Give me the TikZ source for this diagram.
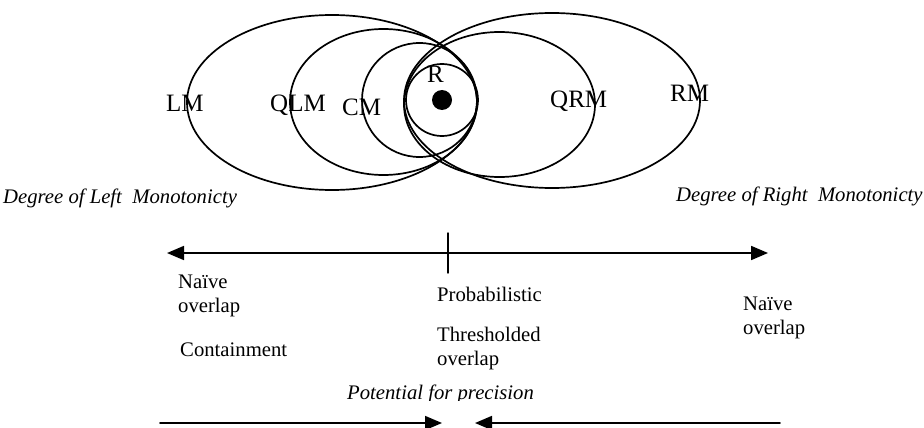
\documentclass[tikz,border=0pt]{standalone}
\usepackage{fontspec}
\setmainfont{Liberation Serif}
\usepackage{tikz}
\usetikzlibrary{calc}
\usetikzlibrary{arrows.meta}
\tikzset{
  ring/.style={line width=1.7pt},
  axis/.style={line width=1.8pt},
  tip/.style={-{Triangle[length=17pt,width=14pt]}},
  lbl/.style={font=\fontsize{25}{28}\selectfont,inner sep=0pt,anchor=base west},
  txt/.style={font=\fontsize{20.7}{24}\selectfont,inner sep=0pt,anchor=base west,align=left},
  itxt/.style={inner sep=0pt,anchor=base west,font=\fontsize{20.7}{24}\selectfont\itshape}
}

\begin{document}
\begin{tikzpicture}[line cap=round,line join=round,x=1pt,y=-1pt]
  \useasboundingbox (0,0) rectangle (924,428);

  % left ellipses
  \draw [ring] (332,102.5) ellipse [x radius=145pt, y radius=87.5pt];
  \draw [ring] (383.5,102) ellipse [x radius=93.5pt, y radius=73pt];
  \draw [ring] (419.5,100) ellipse [x radius=57.5pt, y radius=57pt];
  % right ellipses
  \draw [ring] (552,100.5) ellipse [x radius=148pt, y radius=87.5pt];
  \draw [ring] (499.5,104.5) ellipse [x radius=95.5pt, y radius=72.5pt];
  % core
  \draw [ring] (442,100) circle [radius=36pt];
  \fill (442,100) circle [radius=10pt];

  \node [lbl] (lm)  at (166,111) {LM};
  \node [lbl] (qlm) at (270,111) {QLM};
  \node [lbl] (cm)  at (342,115) {CM};
  \node [lbl] (r)   at (427,82)  {R};
  \node [lbl] (qrm) at (550,107) {QRM};
  \node [lbl] (rm)  at (670,102) {RM};

  \node [itxt] (leftdeg)  at (3,203)   {Degree of Left\ \ Monotonicty};
  \node [itxt] (rightdeg) at (676,201) {Degree of\ Right\ \ Monotonicty};

  % scale of monotonicity
  \coordinate (sl) at (167,253);
  \coordinate (sm) at (448,253);
  \coordinate (sr) at (768,253);
  \draw [axis,tip] (sm) -- (sl);
  \draw [axis,tip] (sm) -- (sr);
  \draw [line width=1.4pt] ($(sm)+(0,-20)$) -- ($(sm)+(0,20)$);

  % base anchor sits on the last line
  \node [txt] (naivel) at (178,312) {Naïve\\overlap};
  \node [txt] (contain) at (180,356) {Containment};
  \node [txt] (prob) at (437,301) {Probabilistic};
  \node [txt] (thresh) at (437,365) {Thresholded\\overlap};
  \node [txt] (naiver) at (743,334) {Naïve\\overlap};

  \begin{scope}
    \clip (300,370) rectangle (600,400);
    \node [itxt] (prec) at (347,399) {Potential for precision};
  \end{scope}

  % precision arrows
  \coordinate (pl) at (160,423);
  \coordinate (plt) at (442,423);
  \coordinate (prt) at (475,423);
  \coordinate (pr) at (780,423);
  \draw [axis,tip] (pl) -- (plt);
  \draw [axis,tip] (pr) -- (prt);
\end{tikzpicture}
\end{document}
